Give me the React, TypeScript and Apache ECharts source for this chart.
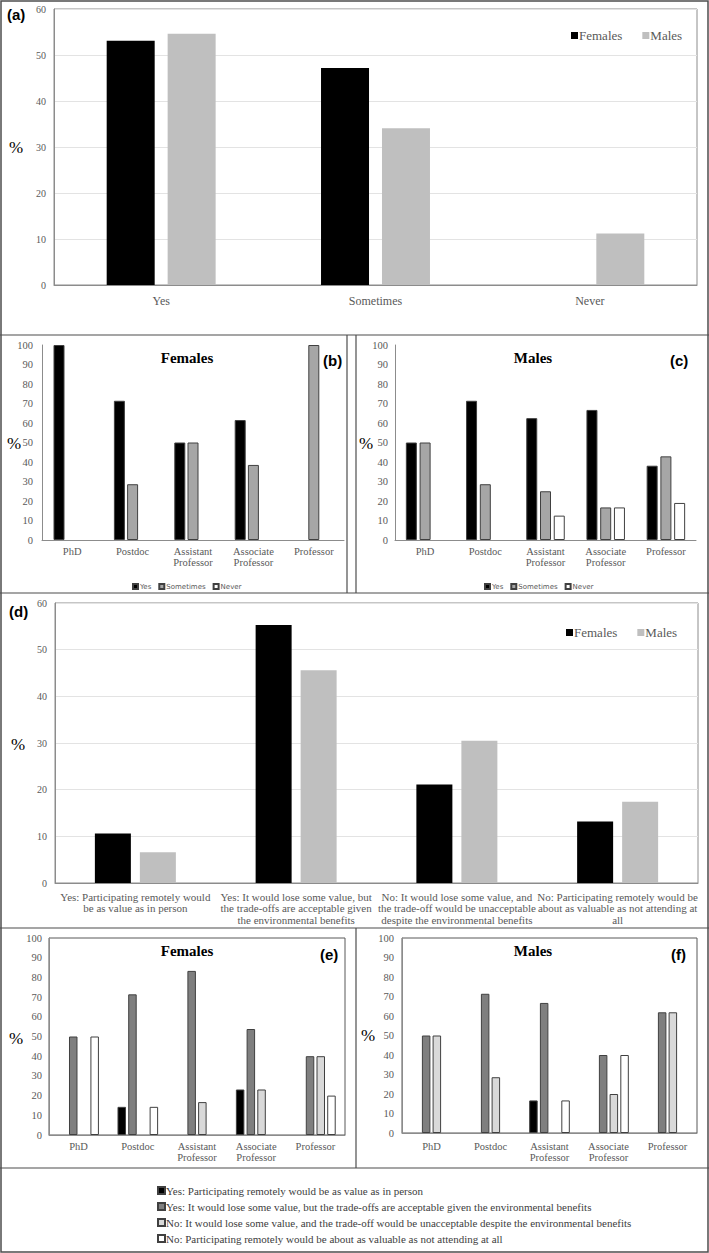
import React, { useEffect, useRef } from "react";
import * as echarts from "echarts";

// ---- Data ----
const aCategories = ["Yes", "Sometimes", "Never"];
const aFemales = [53.1, 47.2, 0];
const aMales = [54.6, 34.1, 11.2];

const rankCategories = ["PhD", "Postdoc", "Assistant\nProfessor", "Associate\nProfessor", "Professor"];
const bYes = [100, 71.4, 50, 61.5, 0];
const bSometimes = [0, 28.6, 50, 38.5, 100];
const bNever = [0, 0, 0, 0, 0];
const cYes = [50, 71.4, 62.5, 66.7, 38.1];
const cSometimes = [50, 28.6, 25, 16.7, 42.9];
const cNever = [0, 0, 12.5, 16.7, 19];

const dCategories = [
  "Yes: Participating remotely would\nbe as value as in person",
  "Yes: It would lose some value, but\nthe trade-offs are acceptable given\nthe environmental benefits",
  "No: It would lose some value, and\nthe trade-off would be unacceptable\ndespite the environmental benefits",
  "No: Participating remotely would be\nabout as valuable as not attending at\nall",
];
const dFemales = [10.6, 55.3, 21.1, 13.2];
const dMales = [6.6, 45.6, 30.5, 17.4];

const answerNames = [
  "Yes: Participating remotely would be as value as in person",
  "Yes: It would lose some value, but the trade-offs are acceptable given the environmental benefits",
  "No: It would lose some value, and the trade-off would be unacceptable despite the environmental benefits",
  "No: Participating remotely would be about as valuable as not attending at all",
];
const eAns1 = [0, 14.3, 0, 23.1, 0];
const eAns2 = [50, 71.4, 83.3, 53.8, 40];
const eAns3 = [0, 0, 16.7, 23.1, 40];
const eAns4 = [50, 14.3, 0, 0, 20];
const fAns1 = [0, 0, 16.7, 0, 0];
const fAns2 = [50, 71.4, 66.7, 40, 61.9];
const fAns3 = [50, 28.6, 0, 20, 61.9];
const fAns4 = [0, 0, 16.7, 40, 0];

const pct60Ticks = [0, 10, 20, 30, 40, 50, 60];
const pct100Ticks = [0, 10, 20, 30, 40, 50, 60, 70, 80, 90, 100];

// ---- Styles ----
const SERIF = "Liberation Serif";
const SANS = "Liberation Sans";
const TICK = "#595959";
const LINE = "#404040";

const nz = (arr: number[]) => arr.map((v) => (v === 0 ? null : v));

export default function App() {
  const ref = useRef<HTMLDivElement>(null);
  useEffect(() => {
    if (!ref.current) return;
    const chart = echarts.init(ref.current, null, { renderer: "svg" });

    const grids = [
      { left: 54, top: 9, width: 643, height: 276, show: true, borderColor: "#8c8c8c", borderWidth: 1 },
      { left: 42, top: 345, width: 302, height: 195, show: false },
      { left: 395, top: 345, width: 301, height: 195, show: false },
      { left: 55, top: 603, width: 643, height: 280, show: true, borderColor: "#8c8c8c", borderWidth: 1 },
      { left: 49, top: 938, width: 296, height: 197, show: true, borderColor: "#595959", borderWidth: 1 },
      { left: 402, top: 938, width: 295, height: 195, show: true, borderColor: "#595959", borderWidth: 1 },
    ];

    const xAxis = (gi: number, data: string[], fontSize: number, margin: number, lh: number) => ({
      type: "category",
      gridIndex: gi,
      data,
      axisTick: { show: false },
      axisLine: { show: true, lineStyle: { color: "#8c8c8c", width: 1 } },
      axisLabel: { interval: 0, color: TICK, fontFamily: SERIF, fontSize, margin, lineHeight: lh },
    });
    const yAxis = (gi: number, ticks: number[], split: boolean, fontSize: number, margin: number) => ({
      type: "value",
      gridIndex: gi,
      min: ticks[0],
      max: ticks[ticks.length - 1],
      interval: ticks[1] - ticks[0],
      axisTick: { show: false },
      axisLine: { show: true, lineStyle: { color: "#8c8c8c", width: 1 } },
      splitLine: { show: split, lineStyle: { color: "#e3e3e3", width: 1 } },
      axisLabel: { color: TICK, fontFamily: SERIF, fontSize, margin },
    });

    const bar = (name: string, xi: number, data: number[], color: string, barWidth: number, barGap: string, bordered: boolean) => ({
      type: "bar",
      name,
      xAxisIndex: xi,
      yAxisIndex: xi,
      data: nz(data),
      barWidth,
      barGap,
      itemStyle: bordered ? { color, borderColor: LINE, borderWidth: 1 } : { color },
    });

    const series = [
      bar("Females", 0, aFemales, "#000000", 48, "27%", false),
      bar("Males", 0, aMales, "#bfbfbf", 48, "27%", false),
      bar("Yes", 1, bYes, "#000000", 11, "20%", true),
      bar("Sometimes", 1, bSometimes, "#a6a6a6", 11, "20%", true),
      bar("Never", 1, bNever, "#ffffff", 11, "20%", true),
      bar("Yes", 2, cYes, "#000000", 11, "25%", true),
      bar("Sometimes", 2, cSometimes, "#a6a6a6", 11, "25%", true),
      bar("Never", 2, cNever, "#ffffff", 11, "25%", true),
      bar("Females", 3, dFemales, "#000000", 36, "25%", false),
      bar("Males", 3, dMales, "#bfbfbf", 36, "25%", false),
      bar(answerNames[0], 4, eAns1, "#000000", 8.5, "26%", true),
      bar(answerNames[1], 4, eAns2, "#7f7f7f", 8.5, "26%", true),
      bar(answerNames[2], 4, eAns3, "#d9d9d9", 8.5, "26%", true),
      bar(answerNames[3], 4, eAns4, "#ffffff", 8.5, "26%", true),
      bar(answerNames[0], 5, fAns1, "#000000", 8.5, "26%", true),
      bar(answerNames[1], 5, fAns2, "#7f7f7f", 8.5, "26%", true),
      bar(answerNames[2], 5, fAns3, "#d9d9d9", 8.5, "26%", true),
      bar(answerNames[3], 5, fAns4, "#ffffff", 8.5, "26%", true),
    ];

    const legendBase = { selectedMode: false, icon: "rect" };
    const smallLegendText = { fontFamily: "DejaVu Sans", fontSize: 7, color: TICK, padding: [0, 0, 0, -3] };
    const legends = [
      { ...legendBase, data: ["Females", "Males"], left: 566, top: 24, itemWidth: 7, itemHeight: 7, itemGap: 20,
        textStyle: { fontFamily: SERIF, fontSize: 13, color: TICK, padding: [0, 0, 0, -4] } },
      { ...legendBase, data: ["Yes", "Sometimes", "Never"], left: 127, top: 578, itemWidth: 5, itemHeight: 5, itemGap: 7,
        textStyle: smallLegendText },
      { ...legendBase, data: ["Yes", "Sometimes", "Never"], left: 479, top: 578, itemWidth: 5, itemHeight: 5, itemGap: 7,
        textStyle: smallLegendText },
      { ...legendBase, data: ["Females", "Males"], left: 561, top: 621, itemWidth: 7, itemHeight: 7, itemGap: 20,
        textStyle: { fontFamily: SERIF, fontSize: 13, color: TICK, padding: [0, 0, 0, -4] } },
      { ...legendBase, data: answerNames, orient: "vertical", left: 152, top: 1180, itemWidth: 7, itemHeight: 7, itemGap: 5,
        textStyle: { fontFamily: SERIF, fontSize: 11, color: "#404040", padding: [0, 0, 0, -4] } },
    ];

    const txt = (text: string, x: number, y: number, font: string, align = "center") => ({
      type: "text",
      x,
      y,
      style: { text, font, fill: "#000", textAlign: align, textVerticalAlign: "middle" },
    });
    const ln = (x1: number, y1: number, x2: number, y2: number) => ({
      type: "line",
      shape: { x1, y1, x2, y2 },
      style: { stroke: "#4d4d4d", lineWidth: 1.2 },
    });

    const graphic = [
      { type: "rect", shape: { x: 1, y: 1, width: 707, height: 1251 }, style: { fill: "none", stroke: "#4d4d4d", lineWidth: 1.5 } },
      ln(0, 335, 709, 335),
      ln(0, 593, 709, 593),
      ln(0, 928, 709, 928),
      ln(0, 1168, 709, 1168),
      ln(356, 335, 356, 593),
      ln(347, 335, 347, 593),
      ln(356, 928, 356, 1168),
      txt("(a)", 7, 14, `bold 15px ${SANS}`, "left"),
      txt("(b)", 323, 360, `bold 15px ${SANS}`, "left"),
      txt("(c)", 670, 360, `bold 15px ${SANS}`, "left"),
      txt("(d)", 9, 611, `bold 15px ${SANS}`, "left"),
      txt("(e)", 320, 954, `bold 15px ${SANS}`, "left"),
      txt("(f)", 671, 954, `bold 15px ${SANS}`, "left"),
      txt("Females", 187, 358, `bold 15px ${SERIF}`),
      txt("Males", 533, 358, `bold 15px ${SERIF}`),
      txt("Females", 187, 951, `bold 15px ${SERIF}`),
      txt("Males", 533, 951, `bold 15px ${SERIF}`),
      txt("%", 16, 147, `17px ${SERIF}`),
      txt("%", 14, 443, `17px ${SERIF}`),
      txt("%", 366, 443, `17px ${SERIF}`),
      txt("%", 18, 744, `17px ${SERIF}`),
      txt("%", 16, 1038, `17px ${SERIF}`),
      txt("%", 368, 1035, `17px ${SERIF}`),
    ];

    chart.setOption({
      animation: false,
      backgroundColor: "#ffffff",
      grid: grids,
      xAxis: [
        xAxis(0, aCategories, 12, 9, 14),
        xAxis(1, rankCategories, 10.5, 6, 11),
        xAxis(2, rankCategories, 10.5, 6, 11),
        xAxis(3, dCategories, 11, 8, 11.5),
        xAxis(4, rankCategories, 10.5, 6, 11),
        xAxis(5, rankCategories, 10.5, 8, 11),
      ],
      yAxis: [
        yAxis(0, pct60Ticks, true, 10, 8),
        yAxis(1, pct100Ticks, false, 10.5, 9),
        yAxis(2, pct100Ticks, false, 10.5, 7),
        yAxis(3, pct60Ticks, true, 10, 8),
        yAxis(4, pct100Ticks, false, 10.5, 7),
        yAxis(5, pct100Ticks, false, 10.5, 8),
      ],
      legend: legends,
      series,
      graphic,
    });
    return () => chart.dispose();
  }, []);
  return <div ref={ref} style={{ position: "absolute", left: 0, top: 0, width: 709, height: 1253 }} />;
}
